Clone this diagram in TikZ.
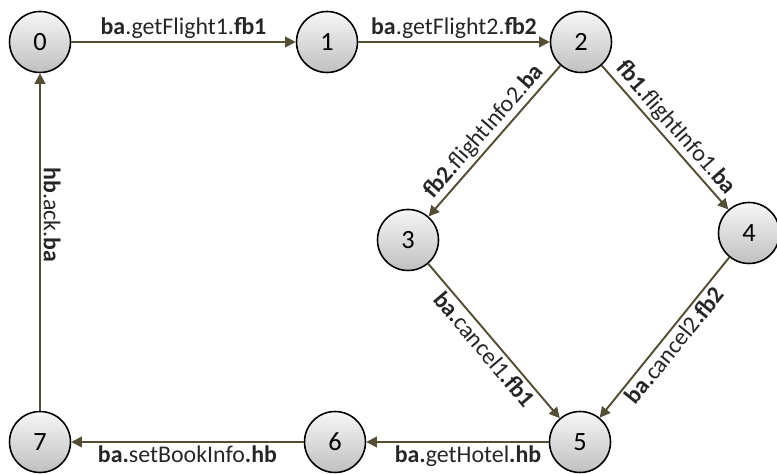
\documentclass[tikz,border=0pt]{standalone}
\usepackage{fontspec}
\setmainfont{Carlito}
\usepackage{xcolor}
\definecolor{arrowc}{RGB}{84,78,52}
\definecolor{nodetop}{RGB}{246,246,246}
\definecolor{nodebot}{RGB}{192,192,192}
\usepackage{tikz}
\usetikzlibrary{arrows.meta}

\begin{document}
\begin{tikzpicture}[x=0.02cm, y=0.02cm,
    state/.style={circle, draw=black, line width=0.9pt, top color=nodetop, bottom color=nodebot, minimum size=1.22cm, inner sep=0pt, font=\fontsize{15}{17}\selectfont},
    trans/.style={draw=arrowc, line width=1.1pt, -{Triangle[length=6pt, width=6pt]}},
    lbl/.style={font=\fontsize{13.6}{15}\selectfont, text=black!85, inner sep=1.5pt}]
    \useasboundingbox (0,0) rectangle (777,473);

    % States
    \node [state] (s0) at (40,431) {0};
    \node [state] (s1) at (327,431) {1};
    \node [state] (s2) at (581,431) {2};
    \node [state] (s3) at (408,233) {3};
    \node [state] (s4) at (749,240) {4};
    \node [state] (s5) at (580,31) {5};
    \node [state] (s6) at (335,31) {6};
    \node [state] (s7) at (40,31) {7};

    % Flight booking
    \path [trans] (s0) -- node [lbl, above] {\textbf{ba}.getFlight1.\textbf{fb1}} (s1);
    \path [trans] (s1) -- node [lbl, above] {\textbf{ba}.getFlight2.\textbf{fb2}} (s2);
    \path [trans] (s2) -- node [lbl, sloped, above] {\textbf{fb2.}flightInfo2.\textbf{ba}} (s3);
    \path [trans] (s2) -- node [lbl, sloped, above] {\textbf{fb1.}flightInfo1.\textbf{ba}} (s4);

    % Cancellation
    \path [trans] (s3) -- node [lbl, sloped, below] {\textbf{ba.}cancel1\textbf{.fb1}} (s5);
    \path [trans] (s4) -- node [lbl, sloped, below] {\textbf{ba.}cancel2\textbf{.fb2}} (s5);

    % Hotel booking
    \path [trans] (s5) -- node [lbl, below, xshift=6pt] {\textbf{ba.}getHotel\textbf{.hb}} (s6);
    \path [trans] (s6) -- node [lbl, below] {\textbf{ba.}setBookInfo\textbf{.hb}} (s7);
    \path [trans] (s7) -- node [lbl, pos=0.58, rotate=-90, anchor=south] {\textbf{hb}.ack.\textbf{ba}} (s0);
\end{tikzpicture}
\end{document}
